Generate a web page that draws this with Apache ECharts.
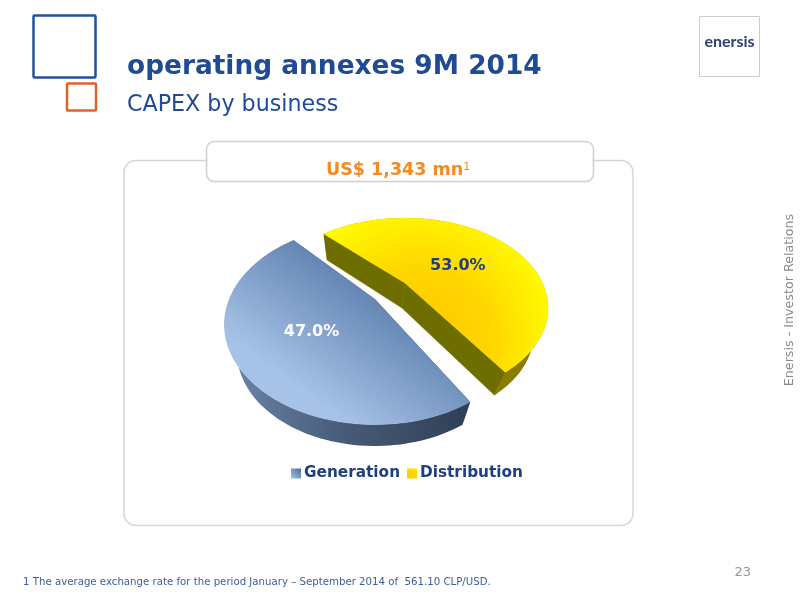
<!DOCTYPE html>
<html><head><meta charset="utf-8">
<style>html,body{margin:0;padding:0;background:#fff}#c{width:800px;height:600px}</style>
<script src="https://cdn.jsdelivr.net/npm/echarts@6/dist/echarts.min.js"></script>
</head><body><div id="c"></div>
<script>
const categories = ['Generation', 'Distribution'];
const shares = [47.0, 53.0];
const titleText = 'operating annexes 9M 2014';
const subtitleText = 'CAPEX by business';
const totalText = 'US$ 1,343 mn';
const footnoteText = '1 The average exchange rate for the period January \u2013 September 2014 of  561.10 CLP/USD.';
const sideText = 'Enersis - Investor Relations';
const pageText = '23';

const sum = shares.reduce((a, b) => a + b, 0);
const font = 'DejaVu Sans';
const navy = '#1f4a94';
const stops = (cs) => cs.map((color, i) => ({offset: i / (cs.length - 1), color}));
const lin = (x, y, x2, y2, ...cs) => ({type: 'linear', x, y, x2, y2, colorStops: stops(cs)});
const rad = (x, y, r, ...cs) => ({type: 'radial', x, y, r, colorStops: stops(cs)});

// Perspective layout of each exploded slice
const layouts = [
  {start: 228.4, dir: -1, labelShift: 0, labelR: .5, labelDy: 2, outerOnTop: true,
   top: {cx: 375, cy: 324.5, rx: 150.5, ry: 100, t: .25}, base: {cx: 375, cy: 352, rx: 138, ry: 94, t: .25},
   face: lin(.72, .14, .34, .84, '#4d71a2', '#a6c2e6'), wall: lin(0, 0, 1, 0, '#6d86a8', '#465a78', '#2f3f54'), inner: '#3d5068',
   labelColor: '#ffffff'},
  {start: 225, dir: 1, labelShift: 12, labelR: .46, labelDy: 0, outerOnTop: false,
   top: {cx: 405, cy: 308, rx: 143, ry: 90, t: .278}, base: {cx: 402, cy: 332.5, rx: 132, ry: 88, t: .278},
   face: rad(.43, .78, .92, '#ffc800', '#ffd600', '#ffff00'), wall: lin(0, 0, 1, 0, '#807800', '#8d7d00'), inner: '#6e6e00',
   labelColor: '#1f3f80'}
];

// Circle point (angle in degrees, radius 0..1) seen in perspective
function project(e, deg, r) {
  const a = deg * Math.PI / 180, x = r * Math.cos(a), y = r * Math.sin(a);
  const d = 1 - e.t * y;
  return [e.cx + e.rx * x * Math.sqrt(1 - e.t * e.t) / d, e.cy + e.ry * (y - e.t) / d];
}
function arc(e, a0, a1) {
  const n = 90, pts = [];
  for (let i = 0; i <= n; i++) pts.push(project(e, a0 + (a1 - a0) * i / n, 1));
  return pts;
}
function sliceRenderer(idx) {
  const L = layouts[idx];
  return function (params, api) {
    const v = api.value(0);
    const sweep = v / sum * 360 * L.dir;
    const a0 = L.start, a1 = L.start + sweep;
    const topArc = arc(L.top, a0, a1), baseArc = arc(L.base, a0, a1);
    const tc = project(L.top, 0, 0), bc = project(L.base, 0, 0);
    const lp = project(L.top, a0 + sweep / 2 + L.labelShift, L.labelR);
    const poly = (points, fill, stroke) => ({type: 'polygon', shape: {points},
      style: {fill, stroke: stroke || fill, lineWidth: .5}});
    const outer = [poly(topArc.concat(baseArc.slice().reverse()), L.wall, 'rgba(0,0,0,0)')];
    const inner = [
      poly([topArc[0], tc, bc, baseArc[0]], L.inner),
      poly([topArc[topArc.length - 1], tc, bc, baseArc[baseArc.length - 1]], L.inner)
    ];
    return {type: 'group', children: (L.outerOnTop ? inner.concat(outer) : outer.concat(inner)).concat([
      poly([tc].concat(topArc), L.face),
      {type: 'text', style: {text: v.toFixed(1) + '%', x: lp[0], y: lp[1] + L.labelDy, align: 'center', verticalAlign: 'middle',
        fill: L.labelColor, font: 'bold 16px "' + font + '"'}}
    ])};
  };
}

const rectEl = (x, y, w, h, r, stroke, lw, fill) => ({type: 'rect', shape: {x, y, width: w, height: h, r},
  style: {fill: fill || 'rgba(0,0,0,0)', stroke, lineWidth: lw}});
const textEl = (text, x, y, f, fill) => ({type: 'text',
  style: {text, x, y, fill, font: f, verticalAlign: 'middle'}});

const chart = echarts.init(document.getElementById('c'), null, {renderer: 'canvas'});
chart.setOption({
  animation: false,
  backgroundColor: '#ffffff',
  legend: {
    left: 286, top: 461, itemWidth: 10, itemHeight: 10, itemGap: 7, icon: 'rect', selectedMode: false,
    textStyle: {color: '#1f3f80', fontFamily: font, fontWeight: 'bold', fontSize: 15.3, padding: [0, 0, 0, -2]},
    data: [
      {name: categories[0], itemStyle: {color: lin(1, 0, 0, 1, '#4a6e9f', '#a6c2e6')}},
      {name: categories[1], itemStyle: {color: lin(1, 0, 0, 1, '#ffe000', '#ffcc00')}}
    ]
  },
  graphic: {elements: [
    rectEl(33.5, 15.5, 62, 62, 1, '#24509c', 2.5),
    rectEl(67, 83.5, 29, 27, 1, '#dd6329', 2.5),
    textEl(titleText, 127, 67, 'bold 26.4px "' + font + '"', navy),
    textEl(subtitleText, 127, 105, '22.2px "' + font + '"', navy),
    rectEl(124, 160.5, 509, 365, 12, '#d6d6d6', 1.5, '#ffffff'),
    rectEl(206.5, 141.5, 387, 40, 8, '#cfcfcf', 1.5, '#ffffff'),
    {type: 'text', style: {x: 326, y: 170, verticalAlign: 'middle', fill: '#f58a1f', rich: {
        a: {font: 'bold 17.5px "' + font + '"', fill: '#f58a1f'},
        b: {font: '11px "' + font + '"', fill: '#f58a1f', padding: [0, 0, 6, 0]}
      }, text: '{a|' + totalText + '}{b|1}'}},
    rectEl(699.5, 16.5, 60, 60, 0, '#cccccc', 1, '#ffffff'),
    {type: 'text', style: {text: 'enersis', x: 729.5, y: 42, fill: '#2f4173',
      font: 'bold 16px "Lato"', align: 'center', verticalAlign: 'middle'}},
    {type: 'text', x: 790, y: 300, rotation: Math.PI / 2, style: {text: sideText, x: 0, y: 0, align: 'center',
      verticalAlign: 'middle', fill: '#8a8a8a', font: '12.7px "' + font + '"'}},
    {type: 'text', style: {text: pageText, x: 751, y: 573, align: 'right', verticalAlign: 'middle',
      fill: '#959595', font: '13px "' + font + '"'}},
    textEl(footnoteText, 23, 582, '10.2px "' + font + '"', '#3b5c9c')
  ]},
  series: categories.map((name, i) => ({
    type: 'custom', name, coordinateSystem: 'none', silent: true, z: i === 0 ? 3 : 2,
    itemStyle: {color: i === 0 ? '#6f91bd' : '#ffe000'},
    renderItem: sliceRenderer(i),
    data: [[shares[i]]]
  }))
});
</script></body></html>
